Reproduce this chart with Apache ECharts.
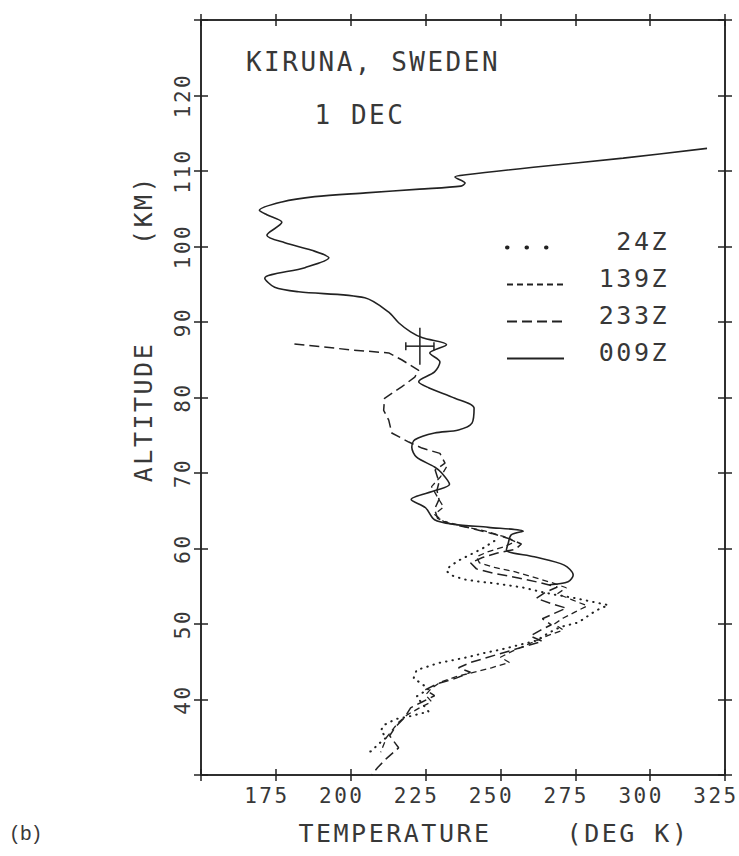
<!DOCTYPE html>
<html>
<head>
<meta charset="utf-8">
<script src="https://cdn.jsdelivr.net/npm/echarts/dist/echarts.min.js"></script>
<style>
html, body { margin: 0; padding: 0; background: #fff; }
#chart { width: 739px; height: 856px; }
#chart text { letter-spacing: 2.5px; }
</style>
</head>
<body>
<div id="chart"></div>
<script>
// 009Z - solid
var temp009 = [319, 291, 261, 238.5, 234.8, 238.2, 236.8, 223, 205, 188, 177, 169.5, 172, 177, 172, 178, 187, 192.7, 184.7, 171.3,
    174.6, 182.6, 204.7, 212.7, 216, 220, 224, 232, 226.4, 229.8, 228, 222.7, 226, 234.8, 241.2, 240.5, 236, 228, 221.4, 220.4,
    222, 228, 230.4, 233, 228.5, 220.2, 225, 228, 234.6, 246, 257.6, 253.6, 252.6, 252, 261.3, 271.3, 274.3, 272.6, 266.3];
var alt009 = [113.0, 111.7, 110.5, 109.5, 109.2, 108.4, 108.0, 107.6, 107.1, 106.6, 105.9, 104.8, 104.2, 103.2, 101.5, 100.5, 99.5, 98.5, 97.2, 95.8,
    94.6, 94.0, 93.2, 91.3, 89.9, 88.7, 87.9, 87.0, 85.9, 84.7, 83.4, 82.1, 81.3, 79.9, 78.6, 76.6, 75.7, 75.3, 74.4, 73.4,
    72.1, 70.8, 70.0, 68.5, 67.7, 66.5, 65.4, 63.8, 63.2, 62.8, 62.3, 61.8, 60.7, 59.8, 58.9, 57.8, 56.5, 55.6, 55.2];

// 233Z - long dashes
var temp233 = [181.2, 200.3, 212.7, 217, 222.7, 221.4, 217, 211.3, 211, 212.7, 213.7, 219.4, 223.8, 229.8, 231.5, 228.2, 229.5, 228.8, 229.5, 228,
    229, 233, 240, 247, 253, 257, 255, 249, 244, 240, 242, 248, 256, 263, 269, 265, 262, 267, 272, 268,
    264, 267, 263, 260, 264, 257, 251, 245, 240, 236, 240, 235, 229, 225, 228, 224, 220, 218, 215, 213,
    216, 212, 209, 207];
var alt233 = [87.1, 86.3, 85.9, 85.0, 83.6, 82.7, 81.4, 79.9, 78.3, 77.0, 75.3, 74.1, 73.3, 72.6, 71.3, 70.4, 68.8, 67.7, 66.5, 65.2,
    64.0, 63.3, 62.7, 62.0, 61.3, 60.6, 59.9, 59.4, 58.8, 58.1, 57.3, 56.7, 56.1, 55.5, 54.9, 54.2, 53.4, 52.7, 52.1, 51.4,
    50.7, 49.9, 49.1, 48.4, 47.7, 46.9, 46.2, 45.5, 44.9, 44.2, 43.6, 42.8, 42.1, 41.3, 40.5, 39.7, 38.9, 37.6, 36.4, 35.2,
    33.6, 32.2, 31.0, 30.0];

// 139Z - short dashes
var temp139 = [232, 230, 227, 229, 231, 228, 231, 238, 245, 251, 255, 251, 246, 242, 243, 248, 255, 261, 267, 272,
    269, 274, 279, 275, 271, 268, 271, 266, 262, 258, 254, 250, 253, 247, 241, 235, 230, 227, 225, 227,
    223, 219, 216, 214, 212, 211, 210];
var alt139 = [70.8, 69.5, 68.2, 66.8, 65.5, 64.5, 63.6, 62.9, 62.3, 61.6, 60.9, 60.2, 59.6, 58.9, 58.1, 57.5, 56.9, 56.2, 55.5, 54.8,
    54.0, 53.2, 52.4, 51.6, 50.8, 50.0, 49.2, 48.5, 47.8, 47.1, 46.4, 45.6, 44.9, 44.2, 43.6, 43.0, 42.3, 41.5, 40.6, 39.7,
    38.9, 38.0, 37.0, 36.0, 35.0, 34.0, 33.0];

// 24Z - dotted
var temp24 = [248, 244, 240, 236, 233, 232, 234, 238, 243, 248, 253, 258, 263, 268, 274, 280, 286, 282, 279, 276,
    270, 266, 262, 256, 250, 245, 239, 234, 229, 226, 222, 221, 224, 226, 222, 224, 226, 220, 215, 211,
    210, 212, 209, 207, 205];
var alt24 = [61.0, 60.0, 59.2, 58.4, 57.6, 57.0, 56.4, 55.9, 55.6, 55.4, 55.1, 54.8, 54.3, 53.9, 53.5, 53.0, 52.5, 51.8, 51.0, 50.2,
    49.6, 48.8, 47.8, 47.2, 46.6, 46.2, 45.6, 45.2, 44.8, 44.4, 43.9, 42.8, 42.0, 41.4, 40.4, 39.4, 38.4, 37.8, 37.4, 36.6,
    35.8, 35.0, 34.0, 33.2, 32.8];

// error cross near 87 km
var crossTemp = [223.1];
var crossAlt = [86.8];
var crossTempErr = [4.7];
var crossAltErr = [2.45];

var xTickLabels = [175, 200, 225, 250, 275, 300, 325];
var yTickLabels = [40, 50, 60, 70, 80, 90, 100, 110, 120];

var MONO = "'DejaVu Sans Mono', monospace";
var INK = '#222';
var TXT = '#383838';

function zip(a, b) {
    var out = [];
    for (var i = 0; i < a.length; i++) out.push([a[i], b[i]]);
    return out;
}

function xAxisDef(pos, inside, labels) {
    return {
        type: 'value', min: 150, max: 325, interval: 25, position: pos,
        axisLine: {show: true, onZero: false, lineStyle: {color: INK, width: 1.5}},
        axisTick: {show: true, inside: inside, length: 6, lineStyle: {color: INK, width: 1.5}},
        axisLabel: {
            show: labels, margin: 10, color: TXT, fontFamily: MONO, fontSize: 21,
            padding: [0, 18, 0, 0], showMinLabel: true, showMaxLabel: true,
            formatter: function (v) { return xTickLabels.indexOf(v) >= 0 ? String(v) : ''; }
        },
        splitLine: {show: false}
    };
}

function yAxisDef(pos, inside, labels) {
    return {
        type: 'value', min: 30, max: 130, interval: 10, position: pos,
        axisLine: {show: true, onZero: false, lineStyle: {color: INK, width: 1.5}},
        axisTick: {show: true, inside: inside, length: 7, lineStyle: {color: INK, width: 1.5}},
        axisLabel: {
            show: labels, margin: 8, rotate: 90, color: TXT, fontFamily: MONO, fontSize: 21,
            showMinLabel: true, showMaxLabel: true,
            formatter: function (v) { return yTickLabels.indexOf(v) >= 0 ? String(v) : ''; }
        },
        splitLine: {show: false}
    };
}

function textEl(str, x, y, size, rot, family) {
    return {
        type: 'text', x: x, y: y, rotation: rot || 0,
        style: {
            text: str, fill: TXT, fontSize: size, fontFamily: family || MONO,
            align: 'center', verticalAlign: 'middle', textAlign: 'center', textVerticalAlign: 'middle'
        }
    };
}

var chart = echarts.init(document.getElementById('chart'), null, {renderer: 'svg'});

var option = {
    animation: false,
    backgroundColor: '#fff',
    grid: {left: 201, right: 14, top: 20, bottom: 81, containLabel: false, outerBoundsMode: 'none'},
    xAxis: [
        xAxisDef('bottom', false, true),
        xAxisDef('bottom', true, false),
        xAxisDef('top', false, false),
        xAxisDef('top', true, false)
    ],
    yAxis: [
        yAxisDef('left', false, true),
        yAxisDef('left', true, false),
        yAxisDef('right', false, false),
        yAxisDef('right', true, false)
    ],
    legend: {
        orient: 'vertical', left: 505, top: 229, padding: 0, itemGap: 0,
        itemWidth: 57, itemHeight: 14,
        itemStyle: {opacity: 0, color: 'transparent', borderWidth: 0},
        data: [
            {name: '24Z', lineStyle: {type: [0.5, 19], width: 4, cap: 'round'}},
            {name: '139Z'},
            {name: '233Z'},
            {name: '009Z'}
        ],
        formatter: function (name) { return '{n|' + name + '}'; },
        textStyle: {
            rich: {
                n: {width: 100, align: 'right', fontSize: 25, lineHeight: 26, fontFamily: MONO, color: TXT, padding: [0, 0, 12, 0]}
            }
        }
    },
    graphic: [
        textEl('KIRUNA, SWEDEN', 373, 62, 26),
        textEl('1 DEC', 360, 115, 26),
        textEl('TEMPERATURE', 395, 833, 25),
        textEl('(DEG K)', 628, 833, 25),
        textEl('ALTITUDE', 143, 412, 25, Math.PI / 2),
        textEl('(KM)', 143, 210, 25, Math.PI / 2),
        textEl('(b)', 27, 833, 20, 0, "'Liberation Sans', Arial, sans-serif")
    ],
    series: [
        {
            name: '24Z', type: 'line', symbol: 'none', data: zip(temp24, alt24),
            lineStyle: {color: INK, width: 2, type: [0.5, 6], cap: 'round'}, itemStyle: {color: INK}
        },
        {
            name: '139Z', type: 'line', symbol: 'none', data: zip(temp139, alt139),
            lineStyle: {color: INK, width: 1.3, type: [6, 4]}, itemStyle: {color: INK}
        },
        {
            name: '233Z', type: 'line', symbol: 'none', data: zip(temp233, alt233),
            lineStyle: {color: INK, width: 1.5, type: [10, 5]}, itemStyle: {color: INK}
        },
        {
            name: '009Z', type: 'line', symbol: 'none', smooth: 0.3, data: zip(temp009, alt009),
            lineStyle: {color: INK, width: 1.6, type: 'solid'}, itemStyle: {color: INK}
        },
        {
            name: 'cross', type: 'custom',
            data: [[crossTemp[0], crossAlt[0], crossTempErr[0], crossAltErr[0]]],
            encode: {x: 0, y: 1},
            renderItem: function (params, api) {
                var t = api.value(0), a = api.value(1), dt = api.value(2), da = api.value(3);
                var l = api.coord([t - dt, a]), r = api.coord([t + dt, a]);
                var lo = api.coord([t, a - da]), hi = api.coord([t, a + da]);
                var st = {stroke: INK, lineWidth: 1.5};
                return {
                    type: 'group', children: [
                        {type: 'line', shape: {x1: l[0], y1: l[1], x2: r[0], y2: r[1]}, style: st},
                        {type: 'line', shape: {x1: lo[0], y1: lo[1], x2: hi[0], y2: hi[1]}, style: st},
                        {type: 'line', shape: {x1: l[0], y1: l[1] - 4, x2: l[0], y2: l[1] + 4}, style: st},
                        {type: 'line', shape: {x1: r[0], y1: r[1] - 4, x2: r[0], y2: r[1] + 4}, style: st}
                    ]
                };
            }
        }
    ]
};

chart.setOption(option);
</script>
</body>
</html>
